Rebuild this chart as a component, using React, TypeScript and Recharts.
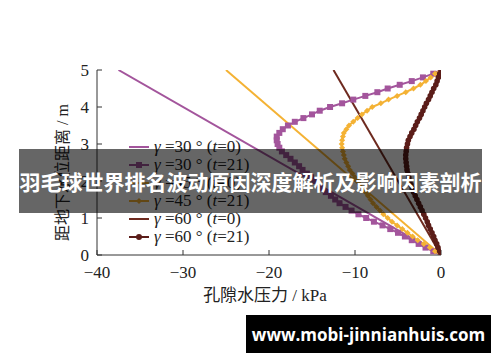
import React from 'react';
import { LineChart, Line, XAxis, YAxis, Legend } from 'recharts';

// depth above the water table (m), one point every 0.1 m
const DEPTH = [
  5.0, 4.9, 4.8, 4.7, 4.6, 4.5, 4.4, 4.3, 4.2, 4.1,
  4.0, 3.9, 3.8, 3.7, 3.6, 3.5, 3.4, 3.3, 3.2, 3.1,
  3.0, 2.9, 2.8, 2.7, 2.6, 2.5, 2.4, 2.3, 2.2, 2.1,
  2.0, 1.9, 1.8, 1.7, 1.6, 1.5, 1.4, 1.3, 1.2, 1.1,
  1.0, 0.9, 0.8, 0.7, 0.6, 0.5, 0.4, 0.3, 0.2, 0.1,
  0.0,
];

// pore water pressure (kPa) at t=21
const P30_T21 = [
  0, -0.9, -2.1, -3.4, -4.8, -6.2, -7.4, -8.8, -10.2, -11.5,
  -12.9, -14.1, -15.0, -16.0, -17.0, -17.8, -18.4, -18.8, -19.1, -19.1,
  -19.0, -18.8, -18.5, -18.0, -17.5, -17.0, -16.5, -16.1, -15.6, -15.1,
  -14.6, -14.2, -13.9, -13.4, -12.8, -12.3, -11.8, -11.1, -10.4, -9.6,
  -8.7, -7.8, -6.8, -5.9, -5.0, -4.2, -3.4, -2.6, -1.8, -0.9,
  0,
];
const P45_T21 = [
  0, -0.7, -1.2, -1.75, -2.4, -3.2, -4.1, -5.1, -6.1, -7.0,
  -8.0, -8.6, -9.2, -9.7, -10.2, -10.7, -11.0, -11.3, -11.4, -11.5,
  -11.55, -11.5, -11.4, -11.3, -11.2, -11.0, -10.8, -10.6, -10.3, -10.0,
  -9.7, -9.4, -9.1, -8.8, -8.5, -8.2, -7.9, -7.5, -7.1, -6.7,
  -6.2, -5.7, -5.1, -4.5, -3.9, -3.3, -2.7, -2.0, -1.3, -0.7,
  0,
];
const P60_T21 = [
  0, -0.15, -0.3, -0.45, -0.6, -0.85, -1.05, -1.25, -1.45, -1.7,
  -1.9, -2.1, -2.3, -2.5, -2.75, -2.95, -3.15, -3.4, -3.6, -3.8,
  -3.9, -4.0, -4.05, -4.1, -4.1, -4.05, -4.0, -3.95, -3.85, -3.75,
  -3.6, -3.5, -3.35, -3.2, -3.0, -2.8, -2.6, -2.4, -2.2, -2.0,
  -1.8, -1.6, -1.45, -1.25, -1.05, -0.85, -0.7, -0.5, -0.35, -0.15,
  0,
];

// t=0: straight hydrostatic lines
const DEPTH_T0 = [5, 0];
const P30_T0 = [-37.5, 0];
const P45_T0 = [-25, 0];
const P60_T0 = [-12.5, 0];

const X_TICKS = [-40, -30, -20, -10, 0];
const Y_TICKS = [0, 1, 2, 3, 4, 5];

const PURPLE = '#a3559c';
const ORANGE = '#f4b234';
const BROWN0 = '#6e2a1f';
const BROWN21 = '#5b1d19';

const SERIF = "'Liberation Serif', 'Noto Sans CJK SC', serif";
const BANNER = '羽毛球世界排名波动原因深度解析及影响因素剖析';
const SITE = 'www.mobi-jinnianhuis.com';

const toPoints = (p: number[], d: number[]) => p.map((v, i) => ({ p: v, d: d[i] }));

const squareDot = (props: any) => (
  <rect key={`s${props.index}`} x={props.cx - 3} y={props.cy - 3} width={6} height={6} fill={PURPLE} />
);
const diamondDot = (props: any) => {
  const { cx, cy } = props;
  return (
    <polygon
      key={`d${props.index}`}
      points={`${cx},${cy - 3} ${cx + 3},${cy} ${cx},${cy + 3} ${cx - 3},${cy}`}
      fill={ORANGE}
    />
  );
};
const circleDot = (props: any) => (
  <circle key={`c${props.index}`} cx={props.cx} cy={props.cy} r={2.8} fill={BROWN21} />
);

const series = [
  { key: 'g30t0', gamma: 30, t: 0, color: PURPLE, width: 2, data: toPoints(P30_T0, DEPTH_T0), dot: false as any, mark: '' },
  { key: 'g30t21', gamma: 30, t: 21, color: PURPLE, width: 2, data: toPoints(P30_T21, DEPTH), dot: squareDot, mark: 'square' },
  { key: 'g45t0', gamma: 45, t: 0, color: ORANGE, width: 2, data: toPoints(P45_T0, DEPTH_T0), dot: false as any, mark: '' },
  { key: 'g45t21', gamma: 45, t: 21, color: ORANGE, width: 2, data: toPoints(P45_T21, DEPTH), dot: diamondDot, mark: 'diamond' },
  { key: 'g60t0', gamma: 60, t: 0, color: BROWN0, width: 2, data: toPoints(P60_T0, DEPTH_T0), dot: false as any, mark: '' },
  { key: 'g60t21', gamma: 60, t: 21, color: BROWN21, width: 3.5, data: toPoints(P60_T21, DEPTH), dot: circleDot, mark: 'circle' },
];

const legendIcon = (s: typeof series[number]) => (
  <svg width={22} height={18} style={{ display: 'block' }}>
    <line x1={1} y1={9} x2={21} y2={9} stroke={s.color} strokeWidth={2} />
    {s.mark === 'square' && <rect x={8} y={6} width={6} height={6} fill={s.color} />}
    {s.mark === 'diamond' && <polygon points="11,6 14,9 11,12 8,9" fill={s.color} />}
    {s.mark === 'circle' && <circle cx={11} cy={9} r={3} fill={s.color} />}
  </svg>
);

const renderLegend = () => (
  <div style={{ fontFamily: SERIF, fontSize: 17, color: '#222' }}>
    {series.map((s) => (
      <div key={s.key} style={{ display: 'flex', alignItems: 'center', height: 18, whiteSpace: 'nowrap' }}>
        {legendIcon(s)}
        <span style={{ marginLeft: 4 }}>
          <i>γ</i> ={s.gamma} ° (<i>t</i>={s.t})
        </span>
      </div>
    ))}
  </div>
);

const fmt = (v: number) => (v < 0 ? `\u2212${Math.abs(v)}` : `${v}`);

const App: React.FC = () => {
  return (
    <div style={{ position: 'absolute', left: 0, top: 0, width: 500, height: 362, background: '#fff', overflow: 'hidden' }}>
      <LineChart width={500} height={362} margin={{ top: 70, right: 59, bottom: 57, left: 37 }}>
        <XAxis
          type="number"
          dataKey="p"
          domain={[-40, 0]}
          ticks={X_TICKS}
          tickFormatter={fmt}
          allowDataOverflow
          height={50}
          tickSize={-5}
          tickMargin={16}
          stroke="#333"
          tick={{ fill: '#222', fontSize: 17, fontFamily: SERIF }}
          label={{
            content: ({ viewBox }: any) => (
              <text
                x={viewBox.x + viewBox.width / 2 - 4}
                y={viewBox.y + 46}
                textAnchor="middle"
                fontFamily={SERIF}
                fontSize={17}
                fill="#222"
              >
                孔隙水压力 / kPa
              </text>
            ),
          }}
        />
        <YAxis
          type="number"
          dataKey="d"
          domain={[0, 5]}
          ticks={Y_TICKS}
          allowDataOverflow
          width={60}
          tickSize={-5}
          tickMargin={13}
          stroke="#333"
          tick={{ fill: '#222', fontSize: 17, fontFamily: SERIF }}
          label={{
            content: ({ viewBox }: any) => {
              const cx = viewBox.x + 25;
              const cy = viewBox.y + viewBox.height / 2 + 10;
              return (
                <text
                  x={cx}
                  y={cy}
                  transform={`rotate(-90, ${cx}, ${cy})`}
                  textAnchor="middle"
                  dominantBaseline="central"
                  fontFamily={SERIF}
                  fontSize={16}
                  fill="#222"
                >
                  距地下水位距离 / m
                </text>
              );
            },
          }}
        />
        <Legend
          content={renderLegend}
          layout="vertical"
          align="center"
          verticalAlign="middle"
          wrapperStyle={{ left: 128, top: 138, width: 150 }}
        />
        {series.map((s) => (
          <Line
            key={s.key}
            data={s.data}
            dataKey="d"
            name={s.key}
            type="linear"
            stroke={s.color}
            strokeWidth={s.width}
            dot={s.dot}
            activeDot={false}
            isAnimationActive={false}
          />
        ))}
      </LineChart>
      <div
        style={{
          position: 'absolute',
          left: 19,
          top: 149,
          width: 463,
          height: 64,
          background: 'rgba(0,0,0,0.6)',
          color: '#fff',
          fontFamily: "'Noto Sans CJK SC', sans-serif",
          fontWeight: 700,
          fontSize: 21,
          display: 'flex',
          alignItems: 'center',
          justifyContent: 'center',
          whiteSpace: 'nowrap',
        }}
      >
        {BANNER}
      </div>
      <div
        style={{
          position: 'absolute',
          left: 246,
          top: 315,
          width: 245,
          height: 38,
          background: '#000',
          color: '#fff',
          fontFamily: "'Open Sans', sans-serif",
          fontWeight: 700,
          fontSize: 17,
          display: 'flex',
          alignItems: 'center',
          justifyContent: 'center',
          whiteSpace: 'nowrap',
        }}
      >
        {SITE}
      </div>
    </div>
  );
};

export default App;
